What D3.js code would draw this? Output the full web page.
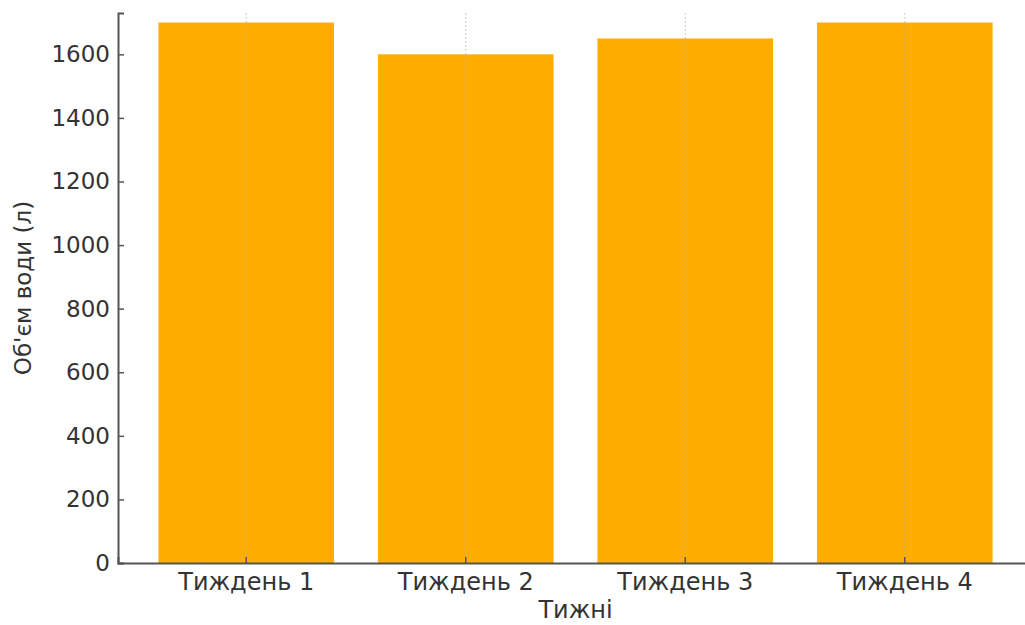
<!DOCTYPE html>
<html>
<head>
<meta charset="utf-8">
<script src="https://cdn.jsdelivr.net/npm/d3@7"></script>
<style>
  body { margin: 0; background: #fff; }
  text { font-family: "DejaVu Sans", sans-serif; fill: #333; }
</style>
</head>
<body>
<div id="chart"></div>
<script>
// weeks and water volume
var weeks = ["Тиждень 1", "Тиждень 2", "Тиждень 3", "Тиждень 4"];
var volumes = [1700, 1600, 1650, 1700];
var yTicks = [0, 200, 400, 600, 800, 1000, 1200, 1400, 1600];

var width = 1025, height = 625;
var mLeft = 118, mRight = 1033, mTop = 13, mBottom = 563;

var svg = d3.select("#chart").append("svg")
    .attr("width", width).attr("height", height);

var x = d3.scaleBand()
    .domain(weeks)
    .range([mLeft, mRight])
    .paddingInner(0.2)
    .paddingOuter(0.184);

var y = d3.scaleLinear()
    .domain([0, 1730])
    .range([mBottom, mTop]);

// bars
svg.selectAll("rect.bar")
    .data(weeks)
    .enter()
    .append("rect")
    .attr("class", "bar")
    .attr("x", function (d) { return x(d); })
    .attr("width", x.bandwidth())
    .attr("y", function (d, i) { return y(volumes[i]); })
    .attr("height", function (d, i) { return mBottom - y(volumes[i]); })
    .attr("fill", "#ffad00");

// vertical dashed grid at category centres
svg.selectAll("line.grid")
    .data(weeks)
    .enter()
    .append("line")
    .attr("class", "grid")
    .attr("x1", function (d) { return x(d) + x.bandwidth() / 2; })
    .attr("x2", function (d) { return x(d) + x.bandwidth() / 2; })
    .attr("y1", mTop)
    .attr("y2", mBottom)
    .attr("stroke", "#aaa")
    .attr("stroke-width", 1)
    .attr("stroke-dasharray", "2,2")
    .attr("opacity", 0.6);

// y axis
var yAxis = svg.append("g")
    .attr("transform", "translate(" + mLeft + ",0)")
    .call(d3.axisRight(y).tickValues(yTicks).tickSize(6).tickFormat(d3.format("d")));
yAxis.select(".domain").attr("stroke", "#555").attr("stroke-width", 2);
yAxis.selectAll(".tick line").attr("stroke", "#555").attr("stroke-width", 1.5);
yAxis.selectAll(".tick text")
    .attr("x", -8)
    .attr("text-anchor", "end")
    .style("font-size", "23px")
    .style("fill", "#333");

// x axis
var xAxis = svg.append("g")
    .attr("transform", "translate(0," + mBottom + ")")
    .call(d3.axisTop(x).tickSize(6));
xAxis.select(".domain").attr("stroke", "#555").attr("stroke-width", 2);
xAxis.selectAll(".tick line").attr("stroke", "#555").attr("stroke-width", 1.5);
xAxis.selectAll(".tick text")
    .attr("y", 27)
    .attr("dy", 0)
    .style("font-size", "24px")
    .style("fill", "#333");

// axis titles
svg.append("text")
    .attr("x", (mLeft + mRight) / 2)
    .attr("y", 618)
    .attr("text-anchor", "middle")
    .style("font-size", "24px")
    .text("Тижні");

svg.append("text")
    .attr("transform", "translate(31," + (mTop + mBottom) / 2 + ") rotate(-90)")
    .attr("text-anchor", "middle")
    .style("font-size", "23px")
    .text("Об'єм води (л)");
</script>
</body>
</html>
